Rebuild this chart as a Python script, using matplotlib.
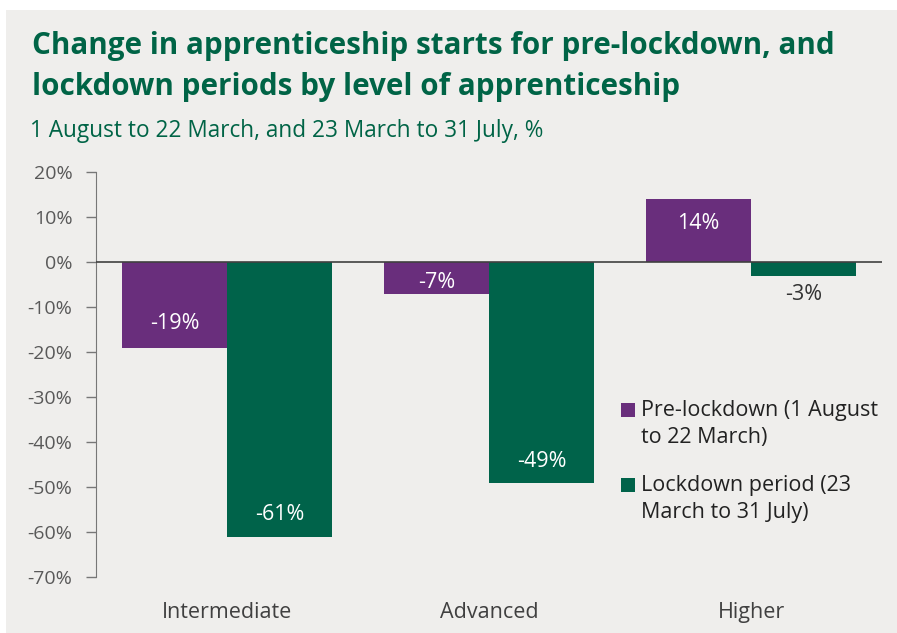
import numpy as np
import matplotlib.pyplot as plt
from matplotlib.patches import Rectangle

# Data
levels = ["Intermediate", "Advanced", "Higher"]
pre_lockdown = [-19, -7, 14]
lockdown = [-61, -49, -3]
legend_labels = ["Pre-lockdown (1 August\nto 22 March)", "Lockdown period (23\nMarch to 31 July)"]
yticks = [20, 10, 0, -10, -20, -30, -40, -50, -60, -70]

purple = "#692e7c"
green = "#00634a"
bg = "#efeeec"
title_green = "#006446"

plt.rcParams['font.family'] = ['Open Sans', 'DejaVu Sans']

fig = plt.figure(figsize=(8.97, 6.33), dpi=100)
fig.patch.set_facecolor("white")
# grey panel behind everything
fig.patches.append(Rectangle((6 / 897, 0), 1, 1 - 10 / 633, transform=fig.transFigure,
                             facecolor=bg, edgecolor="none", zorder=-10))

ax = fig.add_axes([96 / 897, 1 - 577 / 633, (882 - 96) / 897, (577 - 172) / 633])
ax.set_facecolor(bg)

x = np.arange(len(levels))
w = 0.4
bars1 = ax.bar(x - w / 2, pre_lockdown, w, color=purple)
bars2 = ax.bar(x + w / 2, lockdown, w, color=green)

ax.set_xlim(-0.5, 2.5)
ax.set_ylim(-70, 20)
ax.set_yticks(yticks)
ax.set_yticklabels([f"{t}%" for t in yticks], fontsize=14, color="#595959")
ax.set_xticks(x)
ax.set_xticklabels(levels, fontsize=15.5, color="#404040")
ax.tick_params(axis="x", length=0, pad=18)
ax.tick_params(axis="y", length=7, width=1, color="#777777", pad=10)

for s in ["top", "right", "bottom"]:
    ax.spines[s].set_visible(False)
ax.spines["left"].set_color("#777777")
ax.axhline(0, color="#404040", lw=1.2, zorder=3)

# data labels, offsets in pixels from the bar end
def label(bar, v, off, colour="white"):
    cx = bar.get_x() + bar.get_width() / 2
    ax.annotate(f"{v}%", (cx, v), xytext=(0, off * 0.72), textcoords="offset points",
                ha="center", va="center", fontsize=15.5, color=colour)

label(bars1[0], pre_lockdown[0], 24)
label(bars1[1], pre_lockdown[1], 11)
label(bars1[2], pre_lockdown[2], -24)
label(bars2[0], lockdown[0], 22)
label(bars2[1], lockdown[1], 21)
label(bars2[2], lockdown[2], -19, colour="#333333")

# legend drawn by hand so the swatch sits on the first line
for i, (txt, col) in enumerate(zip(legend_labels, [purple, green])):
    ty = 410 + i * 75
    fig.patches.append(Rectangle((621 / 897, 1 - (ty + 7) / 633), 14 / 897, 14 / 633,
                                 transform=fig.transFigure, facecolor=col, edgecolor="none"))
    fig.text(641 / 897, 1 - (ty + 14) / 633, txt, ha="left", va="center", fontsize=15.5,
             color="#222222", linespacing=1.38)

fig.text(32 / 897, 1 - 46 / 633, "Change in apprenticeship starts for pre-lockdown, and",
         fontsize=21.3, fontweight="bold", color=title_green, va="center", ha="left")
fig.text(32 / 897, 1 - 87 / 633, "lockdown periods by level of apprenticeship",
         fontsize=21.3, fontweight="bold", color=title_green, va="center", ha="left")
fig.text(30 / 897, 1 - 131 / 633, "1 August to 22 March, and 23 March to 31 July, %",
         fontsize=16.3, color=title_green, va="center", ha="left")

fig.savefig("out.png", dpi=100, facecolor=fig.get_facecolor())
